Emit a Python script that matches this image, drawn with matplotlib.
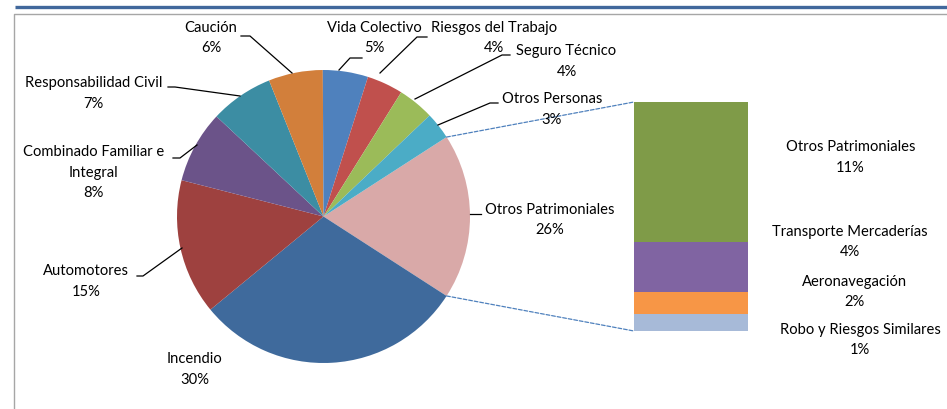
import numpy as np
import matplotlib.pyplot as plt
from matplotlib.patches import ConnectionPatch

plt.rcParams['font.family'] = ['Lato', 'DejaVu Sans']

# main pie (clockwise from the split-off slice)
pie_names = ["Incendio", "Automotores", "Combinado Familiar e\nIntegral",
             "Responsabilidad Civil", "Caución", "Vida Colectivo",
             "Riesgos del Trabajo", "Seguro Técnico", "Otros Personas"]
pie_pct = [30, 15, 8, 7, 6, 5, 4, 4, 3]
pie_colors = ["#3F6A9C", "#9E413F", "#6B5389", "#3C8DA3", "#D27F3B",
              "#4F81BD", "#C0504D", "#9BBB59", "#4BACC6"]

other_name = "Otros Patrimoniales"
other_label_pct = 26
other_color = "#D9A9A8"

# split-off bar (top to bottom)
bar_names = ["Otros Patrimoniales", "Transporte Mercaderías",
             "Aeronavegación", "Robo y Riesgos Similares"]
bar_vals = [11.2, 4.0, 1.75, 1.35]
bar_pct = [11, 4, 2, 1]
bar_colors = ["#7F9B48", "#8064A2", "#F79646", "#A7BAD8"]

W, H = 947, 409
fig = plt.figure(figsize=(W / 100, H / 100), dpi=100)

# pie axes (square in pixels)
cx, cy, r = 323.5, 216.5, 146.5
ax_pie = fig.add_axes([(cx - r) / W, (H - cy - r) / H, 2 * r / W, 2 * r / H])
vals = [sum(bar_vals)] + pie_pct
total = sum(vals)
start = 360 * vals[0] / total / 2
wedges, _ = ax_pie.pie(vals, colors=[other_color] + pie_colors,
                       startangle=start, counterclock=False, radius=1,
                       wedgeprops=dict(linewidth=0))
ax_pie.set_xlim(-1, 1)
ax_pie.set_ylim(-1, 1)
ax_pie.set_aspect('equal')
ax_pie.axis('off')

# stacked bar axes
bx0, bx1, by0, by1 = 634, 748, 102, 331
ax_bar = fig.add_axes([bx0 / W, (H - by1) / H, (bx1 - bx0) / W, (by1 - by0) / H])
bottom = 0
for v, c in zip(bar_vals[::-1], bar_colors[::-1]):
    ax_bar.bar(0, v, bottom=bottom, width=1, color=c, linewidth=0)
    bottom += v
ax_bar.set_xlim(-0.5, 0.5)
ax_bar.set_ylim(0, sum(bar_vals))
ax_bar.axis('off')

# dashed lines from split slice to bar
w0 = wedges[0]
for ang, yb in [(w0.theta2, sum(bar_vals)), (w0.theta1, 0)]:
    a = np.deg2rad(ang)
    con = ConnectionPatch(xyA=(np.cos(a), np.sin(a)), coordsA=ax_pie.transData,
                          xyB=(-0.5, yb), coordsB=ax_bar.transData,
                          color="#4F81BD", lw=0.9, ls=(0, (3, 1.5)))
    fig.add_artist(con)

# overlay in pixel coordinates for frame, labels and leaders
ov = fig.add_axes([0, 0, 1, 1], zorder=5)
ov.set_xlim(0, W)
ov.set_ylim(H, 0)
ov.axis('off')
ov.patch.set_alpha(0)

ov.plot([15, W], [7, 7], color="#41689C", lw=2.4, solid_capstyle='butt')
ov.plot([14, 14, W], [H, 14, 14], color="#A6A6A6", lw=1)

fs = 10.6
step = 20.5


def label(x, y, name, pct):
    # one text per line, first line centred at y
    lines = name.split("\n") + [f"{pct}%"]
    for i, s in enumerate(lines):
        ov.text(x, y + i * step, s, ha='center', va='center', fontsize=fs)


label_pos = [(195, 359), (86, 271), (93.5, 152), (93.5, 83), (211, 28),
             (374, 28), (494, 28), (566.5, 51), (552, 99)]
leaders = [None,
           [(137, 276), (143, 276), (182, 248)],
           [(173, 158), (180, 158), (197, 145)],
           [(168, 87), (175, 87), (240, 96)],
           [(241, 36), (250, 36), (292, 73)],
           [(339, 70), (350, 58), (362, 58)],
           [(380, 73), (417, 37), (427, 37)],
           [(415, 99), (502, 55), (510, 55)],
           [(438, 125), (490, 103), (498, 103)]]

for name, p, (x, y), ld in zip(pie_names, pie_pct, label_pos, leaders):
    label(x, y, name, p)
    if ld is not None:
        xs, ys = zip(*ld)
        ov.plot(xs, ys, color='black', lw=0.9)

label(550, 210, other_name, other_label_pct)
ov.plot([470, 481], [214, 214], color='black', lw=0.9)

bar_label_pos = [(850.5, 147), (850, 232), (854.5, 282), (860, 330)]
for name, p, (x, y) in zip(bar_names, bar_pct, bar_label_pos):
    label(x, y, name, p)

fig.savefig("out.png", dpi=100)
